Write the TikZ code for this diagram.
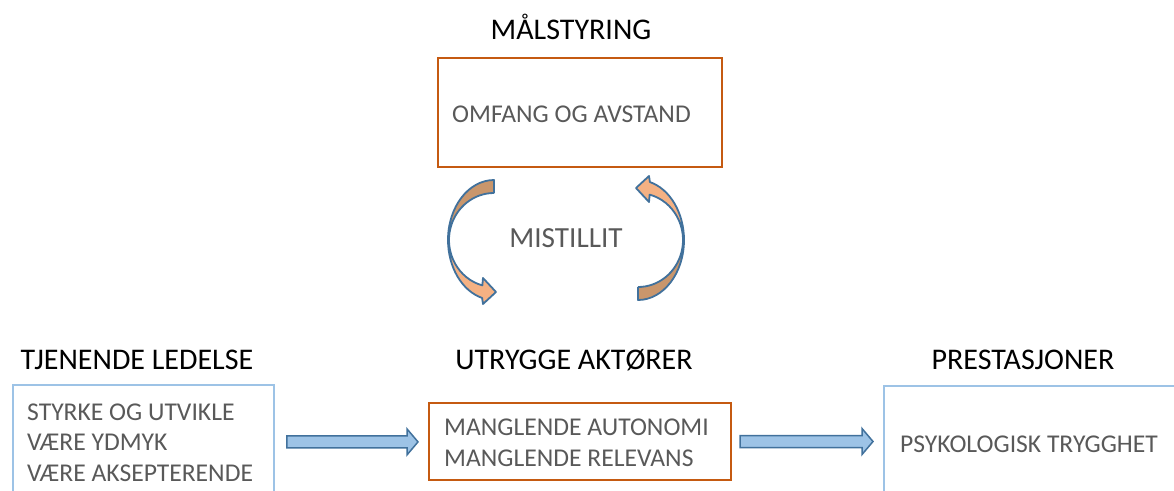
\documentclass[tikz,border=0pt]{standalone}
\usepackage{fontspec}
\setmainfont{Carlito}
\usetikzlibrary{calc}
\definecolor{boxorange}{HTML}{C55A11}
\definecolor{boxblue}{HTML}{9DC3E6}
\definecolor{arrowfill}{HTML}{9DC3E6}
\definecolor{arrowline}{HTML}{41719C}
\definecolor{txtgray}{HTML}{595959}
\definecolor{curvelight}{HTML}{F4B183}
\definecolor{curvedark}{HTML}{C9966C}

% straight block arrow between two points (canvas units)
\newcommand\blkarrow[2]{%
  \draw[blockarr] let \p1=(#1), \p2=(#2) in
    (\x1,\y1+6pt) -- (\x2-11pt,\y1+6pt) -- (\x2-11pt,\y1+13pt) -- (\x2,\y1)
    -- (\x2-11pt,\y1-13pt) -- (\x2-11pt,\y1-6pt) -- (\x1,\y1-6pt) -- cycle;}

\begin{document}
\begin{tikzpicture}[x=1pt,y=-1pt,
  title/.style={font=\fontsize{30}{36}\selectfont, text=black, anchor=base, inner sep=0},
  boxtext/.style={font=\fontsize{25.6}{30.5}\selectfont, text=txtgray, align=left, anchor=west, inner sep=0},
  orangebox/.style={draw=boxorange, line width=2pt, anchor=north west, inner sep=0},
  bluebox/.style={draw=boxblue, line width=1.8pt, anchor=north west, inner sep=0},
  blockarr/.style={fill=arrowfill, draw=arrowline, line width=1.5pt, line join=miter},
  curveline/.style={draw=arrowline, line width=1.8pt, line join=round},
]
\clip (0,0) rectangle (1174,490);

% titles
\node[title] (ttop) at (571,39) {MÅLSTYRING};
\node[title] (tlead) at (137,369) {TJENENDE LEDELSE};
\node[title] (tmid) at (574,369) {UTRYGGE AKTØRER};
\node[title] (tperf) at (1023,369) {PRESTASJONER};

% boxes
\node[orangebox, minimum width=284pt, minimum height=109pt] (top) at (437,57) {};
\node[bluebox, minimum width=261pt, minimum height=114pt] (lead) at (12,384) {};
\node[orangebox, minimum width=302pt, minimum height=77pt] (mid) at (428,402) {};
\node[bluebox, minimum width=300pt, minimum height=112pt] (perf) at (883,385) {};

% box contents
\node[boxtext] (toptxt) at ($(top.west)+(15,1.5)$) {OMFANG OG AVSTAND};
\node[boxtext] (leadtxt) at ($(lead.west)+(15,0.5)$) {STYRKE OG UTVIKLE\\VÆRE YDMYK\\VÆRE AKSEPTERENDE};
\node[boxtext] (midtxt) at ($(mid.west)+(16,1.5)$) {MANGLENDE AUTONOMI\\MANGLENDE RELEVANS};
\node[boxtext] (perftxt) at ($(perf.west)+(17,2.5)$) {PSYKOLOGISK TRYGGHET};

% straight arrows
\blkarrow{$(lead.east)+(12,0)$}{$(mid.west)+(-10,0)$}
\blkarrow{$(mid.east)+(8,0)$}{$(perf.west)+(-10,0)$}

% circular arrows around the centre label
\node[font=\fontsize{29.2}{35}\selectfont, text=txtgray, inner sep=0] (mis) at (566,238) {MISTILLIT};

\foreach \rot in {0,180}{
  \begin{scope}[rotate around={\rot:(566,240)}]
    % back part of the band
    \fill[curvedark] (494,180) arc[start angle=270, end angle=180, x radius=46, y radius=60]
      -- (449,240) arc[start angle=180, end angle=270, x radius=45, y radius=47] -- cycle;
    % front part with the head
    \fill[curvelight] (448,240) arc[start angle=180, end angle=105, x radius=46, y radius=60]
      -- (483,304) -- (496,292) -- (483,278) -- (482.35,285.4)
      arc[start angle=105, end angle=180, x radius=45, y radius=47] -- cycle;
    % outline
    \draw[curveline] (494,193) -- (494,180)
      arc[start angle=270, end angle=105, x radius=46, y radius=60]
      -- (483,304) -- (496,292) -- (483,278) -- (482.35,285.4)
      arc[start angle=105, end angle=270, x radius=45, y radius=47];
  \end{scope}
}
\end{tikzpicture}
\end{document}
